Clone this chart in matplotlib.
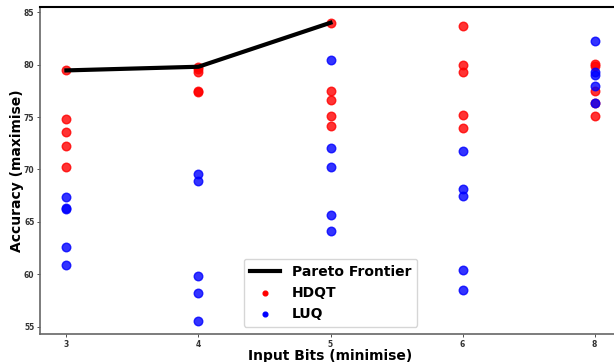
import numpy as np
import matplotlib.pyplot as plt

# input bit widths (shown as equally spaced categories)
bits = ["3", "4", "5", "6", "8"]

# accuracy of each run, per bit width
hdqt_acc = [
    [79.45, 74.77, 73.53, 72.22, 70.25],
    [79.8, 79.55, 79.3, 77.5, 77.4],
    [84.0, 77.45, 76.6, 75.1, 74.1],
    [83.7, 79.97, 79.3, 75.2, 73.98],
    [80.1, 79.9, 77.45, 76.3, 75.1],
]
luq_acc = [
    [67.38, 66.3, 66.2, 62.57, 60.9],
    [69.6, 68.9, 59.8, 58.2, 55.55],
    [80.45, 72.03, 70.2, 65.7, 64.1],
    [71.75, 68.1, 67.45, 60.4, 58.5],
    [82.3, 79.3, 79.0, 78.0, 76.3],
]

# pareto frontier (bits, accuracy)
pareto_bits = ["3", "4", "5"]
pareto_acc = [79.45, 79.8, 84.0]


def main():
    fig = plt.figure(figsize=(6.14, 3.62), dpi=100)
    # right edge of the axes lies past the canvas, as in the original crop
    ax = fig.add_axes([40 / 614, 28 / 362, 581 / 614, 327 / 362])

    xpos = {b: i for i, b in enumerate(bits)}

    px = [xpos[b] for b in pareto_bits]
    ax.plot(px, pareto_acc, color="black", lw=3, label="Pareto Frontier", zorder=3)

    for i, b in enumerate(bits):
        ax.scatter([i] * len(hdqt_acc[i]), hdqt_acc[i], color="red", s=38, alpha=0.8,
                   label="HDQT" if i == 0 else None, zorder=2)
    for i, b in enumerate(bits):
        ax.scatter([i] * len(luq_acc[i]), luq_acc[i], color="blue", s=38, alpha=0.8,
                   label="LUQ" if i == 0 else None, zorder=2)

    ax.set_xlim(-0.2, 4.2)
    ax.set_ylim(54.3, 85.5)
    ax.set_xticks(range(len(bits)))
    ax.set_xticklabels(bits)
    ax.set_yticks([55, 60, 65, 70, 75, 80, 85])
    ax.tick_params(labelsize=5.5, colors="#333333", length=2, width=0.6, pad=2)
    for lab in ax.get_xticklabels() + ax.get_yticklabels():
        lab.set_fontweight("bold")

    ax.spines["left"].set_color("#666666")
    ax.spines["bottom"].set_color("#666666")
    ax.spines["left"].set_linewidth(1.2)
    ax.spines["bottom"].set_linewidth(1.2)
    ax.spines["top"].set_color("black")
    ax.spines["top"].set_linewidth(1.5)

    ax.set_xlabel("Input Bits (minimise)", fontsize=10, fontweight="bold", labelpad=0)
    ax.set_ylabel("Accuracy (maximise)", fontsize=10, fontweight="bold", labelpad=0)

    leg = ax.legend(loc="lower center", prop={"weight": "bold", "size": 10},
                    markerscale=0.55, handlelength=2.2, borderpad=0.45,
                    labelspacing=0.5)
    for h in leg.legend_handles[1:]:
        h.set_alpha(1)

    fig.savefig("out.png", dpi=100)


if __name__ == "__main__":
    main()
